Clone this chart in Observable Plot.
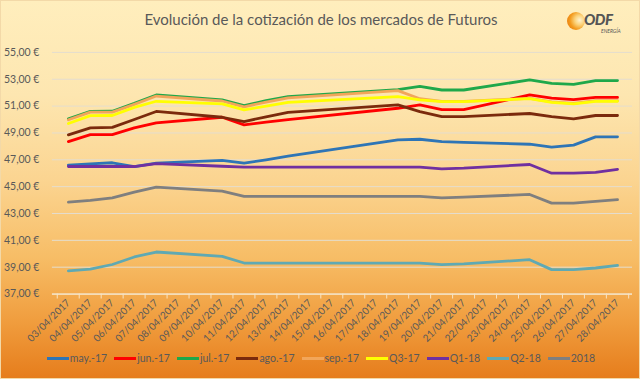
<!DOCTYPE html>
<html><head><meta charset="utf-8">
<script src="https://cdn.jsdelivr.net/npm/d3@7"></script>
<script src="https://cdn.jsdelivr.net/npm/@observablehq/plot@0.6"></script>
<style>
body{margin:0;}
#wrap{position:relative;width:640px;height:379px;overflow:hidden;box-sizing:border-box;border:1px solid #f3d9a8;
background:linear-gradient(to bottom,#ffeebd 0%,#fde6b0 25%,#fbd490 48%,#f7bd66 68%,#f09d3e 85%,#e67d1c 100%);
font-family:Lato,"Open Sans",sans-serif;}
#title{position:absolute;top:9px;left:0;width:640px;text-align:center;font-size:15px;color:#595959;}
#chart{position:absolute;top:-1px;left:-1px;}
#legend{position:absolute;top:351px;left:0;width:640px;display:flex;justify-content:center;gap:7px;font-size:10.5px;color:#595959;}
#legend .it{display:flex;align-items:center;gap:1px;}
#legend .sw{width:22px;height:3px;}
#logo{position:absolute;left:566px;top:10px;width:60px;height:26px;}
#logo .sun{position:absolute;left:0;top:1px;width:18px;height:18px;border-radius:50%;
background:radial-gradient(circle at 70% 45%,#fff3d0 0%,#fbd27a 30%,#f39a1c 60%,#e36f0c 100%);}
#logo .odf{position:absolute;left:17px;top:-1px;font-weight:900;font-style:italic;font-size:15px;color:#555;letter-spacing:-0.5px;}
#logo .en{position:absolute;left:34px;top:17px;font-style:italic;font-size:5px;color:#555;}
</style></head>
<body>
<div id="wrap">
  <div id="chart"></div>
  <div id="title">Evolución de la cotización de los mercados de Futuros</div>
  <div id="logo"><div class="sun"></div><div class="odf">ODF</div><div class="en">ENERGÍA</div></div>
  <div id="legend"></div>
</div>
<script>
const dates = ["03/04/2017","04/04/2017","05/04/2017","06/04/2017","07/04/2017","08/04/2017","09/04/2017","10/04/2017","11/04/2017","12/04/2017","13/04/2017","14/04/2017","15/04/2017","16/04/2017","17/04/2017","18/04/2017","19/04/2017","20/04/2017","21/04/2017","22/04/2017","23/04/2017","24/04/2017","25/04/2017","26/04/2017","27/04/2017","28/04/2017"];
const yTicks = [37,39,41,43,45,47,49,51,53,55];
const seriesNames = ["may.-17","jun.-17","jul.-17","ago.-17","sep.-17","Q3-17","Q1-18","Q2-18","2018"];
const seriesColors = ["#2e75b6","#ff0000","#1fa84a","#7b2a0c","#f2a65a","#ffff00","#7030a0","#5fa9b3","#7f7f7f"];
const _ = null;
const may17 = [46.6,46.7,46.78,46.5,46.75,_,_,46.95,46.75,47.0,47.27,_,_,_,_,48.49,48.53,48.36,48.3,_,_,48.16,47.94,48.09,48.71,48.71];
const jun17 = [48.36,48.88,48.88,49.38,49.75,_,_,50.17,49.6,49.8,50.0,_,_,_,_,50.84,51.09,50.74,50.74,_,_,51.83,51.6,51.48,51.65,51.65];
const jul17 = [50.05,50.61,50.62,51.2,51.83,_,_,51.46,51.04,51.4,51.7,_,_,_,_,52.23,52.47,52.2,52.2,_,_,52.95,52.7,52.62,52.9,52.9];
const ago17 = [48.86,49.38,49.42,50.0,50.6,_,_,50.17,49.85,50.2,50.54,_,_,_,_,51.09,50.59,50.22,50.22,_,_,50.45,50.22,50.05,50.3,50.3];
const sep17 = [49.98,50.55,50.55,51.13,51.75,_,_,51.38,50.95,51.3,51.62,_,_,_,_,52.15,51.55,51.36,51.36,_,_,51.58,51.32,51.2,51.4,51.4];
const q317  = [49.7,50.29,50.3,50.91,51.36,_,_,51.16,50.72,51.0,51.28,_,_,_,_,51.7,51.46,51.33,51.33,_,_,51.55,51.28,51.16,51.36,51.36];
const q118  = [46.5,46.5,46.5,46.5,46.72,_,_,46.52,46.45,46.45,46.45,_,_,_,_,46.45,46.45,46.33,46.38,_,_,46.65,46.0,46.0,46.06,46.28];
const q218  = [38.72,38.85,39.2,39.76,40.13,_,_,39.81,39.31,39.31,39.31,_,_,_,_,39.31,39.31,39.19,39.25,_,_,39.56,38.82,38.82,38.94,39.14];
const y2018 = [43.85,43.97,44.17,44.59,44.96,_,_,44.67,44.27,44.27,44.27,_,_,_,_,44.27,44.27,44.17,44.22,_,_,44.42,43.77,43.77,43.9,44.03];
const seriesValues = [may17,jun17,jul17,ago17,sep17,q317,q118,q218,y2018];

const rows = [];
seriesValues.forEach((vals, si) => vals.forEach((v, i) => {
  if (v != null) rows.push({serie: seriesNames[si], date: dates[i], value: v});
}));

const W = 640, H = 345, mL = 52, mR = 7, mT = 52, mB = 51;
const step = (W - mL - mR) / dates.length;
const axisCol = "#f8e4c4";
const txtCol = "#595959";
const fmt = d => d.toFixed(2).replace(".", ",") + " €";

const chart = Plot.plot({
  width: W, height: H,
  marginLeft: mL, marginRight: mR, marginTop: mT, marginBottom: mB,
  style: {background: "transparent", fontFamily: "Lato, 'Open Sans', sans-serif"},
  x: {type: "point", domain: dates, padding: 0.5, label: null},
  y: {domain: [37, 55], label: null},
  color: {domain: seriesNames, range: seriesColors},
  marks: [
    Plot.gridY(yTicks, {stroke: "#e4ddcf", strokeOpacity: 1, strokeWidth: 1}),
    Plot.ruleY([37], {stroke: axisCol, strokeWidth: 1.2}),
    Plot.axisY(yTicks, {tickSize: 0, tickPadding: 13, tickFormat: fmt, fontSize: 10.5, fill: txtCol, label: null}),
    Plot.axisX({tickSize: 5, text: null, dx: -step / 2, stroke: axisCol, label: null}),
    Plot.axisX([dates[dates.length - 1]], {tickSize: 5, text: null, dx: step / 2, stroke: axisCol, label: null}),
    Plot.axisX({tickSize: 0, tickRotate: -45, tickPadding: 7, fontSize: 10, fill: txtCol, label: null}),
    Plot.line(rows, {x: "date", y: "value", z: "serie", stroke: "serie", strokeWidth: 2.8, strokeLinejoin: "round", strokeLinecap: "round"})
  ]
});
document.getElementById("chart").appendChild(chart);

const leg = document.getElementById("legend");
seriesNames.forEach((n, i) => {
  const it = document.createElement("div"); it.className = "it";
  const sw = document.createElement("div"); sw.className = "sw"; sw.style.background = seriesColors[i];
  const t = document.createElement("span"); t.textContent = n;
  it.appendChild(sw); it.appendChild(t); leg.appendChild(it);
});
</script>
</body></html>
